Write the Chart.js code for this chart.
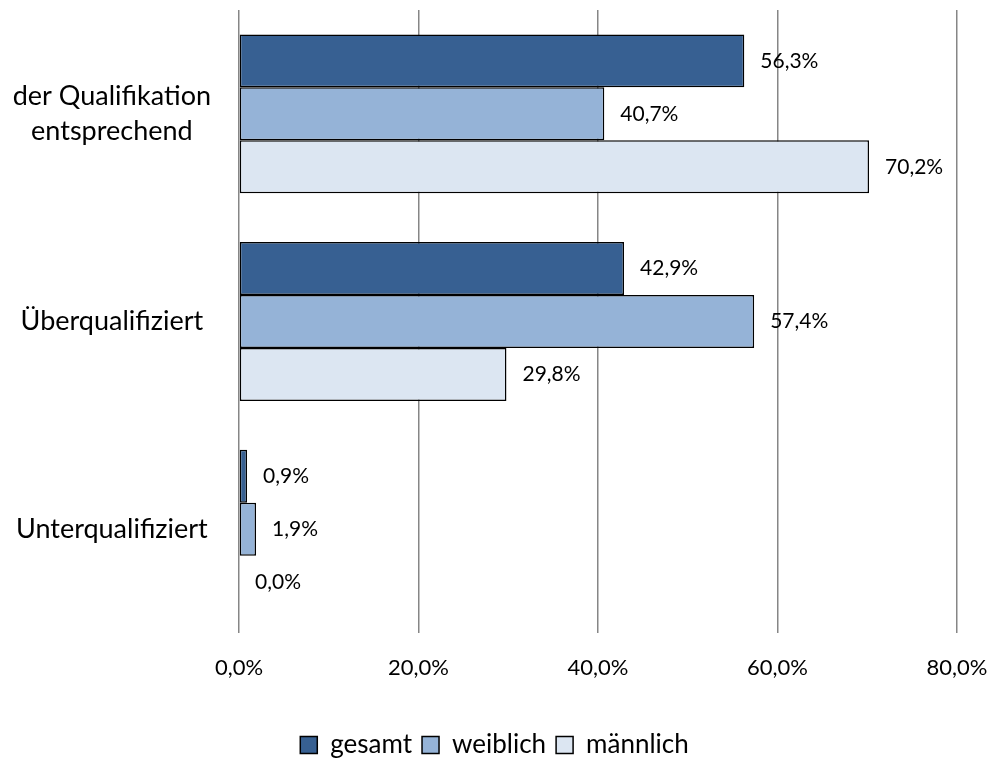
<!DOCTYPE html>
<html>
<head>
<meta charset="utf-8">
<script src="https://cdn.jsdelivr.net/npm/chart.js@4"></script>
<style>
  html, body { margin: 0; padding: 0; background: #fff; }
  #wrap { width: 990px; height: 770px; }
</style>
</head>
<body>
<div id="wrap"><canvas id="qualiChart" width="990" height="770"></canvas></div>
<script>
// Qualifikationsniveau nach Geschlecht (horizontal bars)
const categories = [["der Qualifikation", "entsprechend"], "Überqualifiziert", "Unterqualifiziert"];
const gesamt = [56.3, 42.9, 0.9];
const weiblich = [40.7, 57.4, 1.9];
const maennlich = [70.2, 29.8, 0.0];
const xTicks = [0, 20, 40, 60, 80];

const FONT = "Lato, 'Open Sans', sans-serif";

function fmt(v) {
  return v.toFixed(1).replace(".", ",") + "%";
}

// draws the value next to the end of each bar
const valueLabels = {
  id: "valueLabels",
  afterDatasetsDraw(chart) {
    const ctx = chart.ctx;
    ctx.save();
    ctx.font = "21px " + FONT;
    ctx.fillStyle = "#000";
    ctx.textAlign = "left";
    ctx.textBaseline = "middle";
    chart.data.datasets.forEach((ds, i) => {
      chart.getDatasetMeta(i).data.forEach((bar, j) => {
        ctx.fillText(fmt(ds.data[j]), bar.x + 16, bar.y);
      });
    });
    ctx.restore();
  },
};

// legend is centred on the whole canvas, not just inside the right padding
const legendShift = {
  id: "legendShift",
  afterLayout(chart) {
    if (chart.legend) {
      chart.legend.left += 16;
      chart.legend.right += 16;
    }
  },
};

new Chart(document.getElementById("qualiChart"), {
  type: "bar",
  data: {
    labels: categories,
    datasets: [
      { label: "gesamt", data: gesamt, backgroundColor: "#376092" },
      { label: "weiblich", data: weiblich, backgroundColor: "#95B3D7" },
      { label: "männlich", data: maennlich, backgroundColor: "#DCE6F2" },
    ],
  },
  options: {
    indexAxis: "y",
    responsive: false,
    animation: false,
    layout: { padding: { top: 10, right: 33, bottom: 2, left: 0 } },
    datasets: {
      bar: {
        borderColor: "#000",
        borderWidth: 1.5,
        borderSkipped: false,
        categoryPercentage: 0.765,
        barPercentage: 1,
      },
    },
    plugins: {
      legend: {
        position: "bottom",
        labels: {
          font: { family: FONT, size: 26 },
          color: "#000",
          boxWidth: 17,
          boxHeight: 17,
          padding: 10,
        },
      },
      tooltip: { enabled: false },
    },
    scales: {
      x: {
        min: 0,
        max: 80,
        afterBuildTicks(scale) {
          scale.ticks = xTicks.map((v) => ({ value: v }));
        },
        afterFit(scale) {
          scale.height = 89;
          scale.paddingLeft = 0;
          scale.paddingRight = 0;
        },
        grid: { color: "#868686", lineWidth: 1.5, drawTicks: false },
        border: { display: false },
        ticks: {
          padding: 22,
          color: "#000",
          font: { family: FONT, size: 22 },
          callback: (v) => fmt(v),
        },
      },
      y: {
        afterFit(scale) {
          scale.width = 239;
          scale.paddingTop = 0;
          scale.paddingBottom = 0;
        },
        grid: { display: false, drawTicks: false },
        border: { display: false },
        ticks: {
          crossAlign: "center",
          padding: 28,
          color: "#000",
          font: { family: FONT, size: 27, lineHeight: 1.3 },
        },
      },
    },
  },
  plugins: [valueLabels, legendShift],
});
</script>
</body>
</html>
